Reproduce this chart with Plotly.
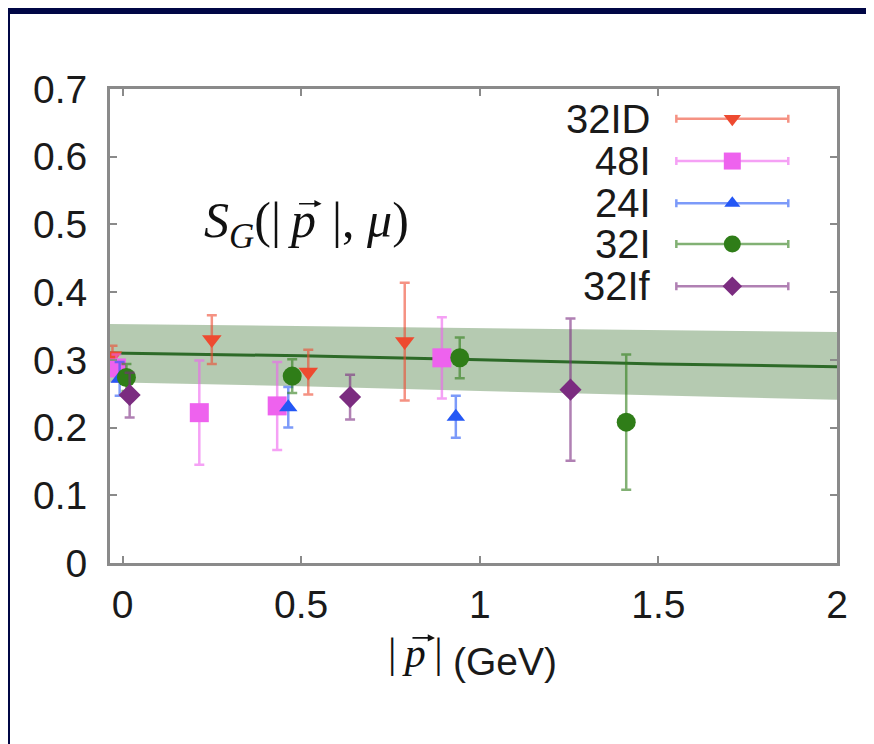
import plotly.graph_objects as go

# data
names = ["32ID", "48I", "24I", "32I", "32If"]

x_32ID = [-0.028, 0.25, 0.52, 0.79]
y_32ID = [0.306, 0.330, 0.282, 0.327]
e_32ID = [0.015, 0.036, 0.033, 0.087]

x_48I = [-0.017, 0.215, 0.433, 0.894]
y_48I = [0.288, 0.222, 0.232, 0.303]
e_48I = [0.02, 0.077, 0.065, 0.06]

x_24I = [-0.008, 0.464, 0.933]
y_24I = [0.272, 0.230, 0.216]
e_24I = [0.025, 0.03, 0.031]

x_32I = [0.011, 0.475, 0.944, 1.41]
y_32I = [0.274, 0.276, 0.303, 0.208]
e_32I = [0.02, 0.025, 0.03, 0.1]

x_32If = [0.02, 0.637, 1.254]
y_32If = [0.248, 0.245, 0.256]
e_32If = [0.033, 0.033, 0.105]

band_x = [-0.035, 0.5, 1.0, 1.5, 2.0]
band_mid = [0.310, 0.306, 0.300, 0.294, 0.290]
band_hi = [0.353, 0.350, 0.347, 0.344, 0.341]
band_lo = [0.267, 0.261, 0.254, 0.247, 0.241]

x_ticks = [0, 0.5, 1, 1.5, 2]
y_ticks = [0, 0.1, 0.2, 0.3, 0.4, 0.5, 0.6, 0.7]

colors = ["#ee4a30", "#ee62ee", "#2457f5", "#2f7d18", "#7b2c80"]
err_colors = ["rgba(238,74,48,0.6)", "rgba(238,98,238,0.6)", "rgba(36,87,245,0.6)",
              "rgba(47,125,24,0.6)", "rgba(123,44,128,0.6)"]
symbols = ["triangle-down", "square", "triangle-up", "circle", "diamond"]
sizes = [17, 19, 16, 19, 17]

series = [(x_32ID, y_32ID, e_32ID), (x_48I, y_48I, e_48I), (x_24I, y_24I, e_24I),
          (x_32I, y_32I, e_32I), (x_32If, y_32If, e_32If)]

fig = go.Figure()

# fit band
fig.add_trace(go.Scatter(x=band_x, y=band_lo, mode='lines', line=dict(width=0),
                         showlegend=False, hoverinfo='skip'))
fig.add_trace(go.Scatter(x=band_x, y=band_hi, mode='lines', line=dict(width=0),
                         fill='tonexty', fillcolor='rgba(60,115,50,0.38)',
                         showlegend=False, hoverinfo='skip'))
fig.add_trace(go.Scatter(x=band_x, y=band_mid, mode='lines',
                         line=dict(color='#2d6a28', width=3), showlegend=False))

for i, (xs, ys, es) in enumerate(series):
    fig.add_trace(go.Scatter(x=xs, y=ys, mode='markers', name=names[i],
                             marker=dict(symbol=symbols[i], size=sizes[i], color=colors[i]),
                             error_y=dict(type='data', array=es, color=err_colors[i],
                                          thickness=2.5, width=5),
                             showlegend=False))

# hand-made gnuplot style key on an overlay axis
key_y = [0.937, 0.848, 0.759, 0.673, 0.584]
for i in range(len(names)):
    fig.add_trace(go.Scatter(x=[0.856], y=[key_y[i]], mode='markers', xaxis='x2', yaxis='y2',
                             marker=dict(symbol=symbols[i], size=sizes[i] - 2, color=colors[i]),
                             error_x=dict(type='data', array=[0.077], color=err_colors[i],
                                          thickness=2.5, width=4),
                             showlegend=False))
    fig.add_annotation(x=0.747, y=key_y[i], xref='paper', yref='paper', text=names[i],
                       showarrow=False, xanchor='right', yanchor='middle',
                       font=dict(family='Liberation Sans', size=40, color='#1a1a1a'))

serif = dict(family='Liberation Serif', size=50, color='#111')

# S_G(|p|, mu) label, split at the p so the vector arrow can sit on it
fig.add_annotation(x=0.286, y=0.787, xref='paper', yref='paper',
                   text="<i>S<sub>G</sub></i>(|\u2009<i>p</i>",
                   showarrow=False, xanchor='right', yanchor='top', font=serif)
fig.add_annotation(x=0.289, y=0.787, xref='paper', yref='paper',
                   text="\u2009|, <i>μ</i>)",
                   showarrow=False, xanchor='left', yanchor='top', font=serif)
fig.add_annotation(x=0.291, y=0.758, xref='paper', yref='paper', text='',
                   showarrow=True, ax=-24, ay=0, axref='pixel', ayref='pixel',
                   arrowhead=2, arrowsize=0.9, arrowwidth=1.6, arrowcolor='#111')

# axis title |p| (GeV)
fig.add_annotation(x=0.461, y=-0.137, xref='paper', yref='paper',
                   text="|\u2009<i>p</i>\u2009|",
                   showarrow=False, xanchor='right', yanchor='top',
                   font=dict(family='Liberation Serif', size=42, color='#111'))
fig.add_annotation(x=0.469, y=-0.207, xref='paper', yref='paper', text="(GeV)",
                   showarrow=False, xanchor='left', yanchor='middle',
                   font=dict(family='Liberation Sans', size=39, color='#1a1a1a'))
fig.add_annotation(x=0.447, y=-0.158, xref='paper', yref='paper', text='',
                   showarrow=True, ax=-24, ay=0, axref='pixel', ayref='pixel',
                   arrowhead=2, arrowsize=0.9, arrowwidth=1.6, arrowcolor='#111')

axis_style = dict(showline=True, linecolor='#8a8a8a', linewidth=3, mirror='ticks',
                  ticks='inside', ticklen=7, tickcolor='#8a8a8a', tickwidth=2,
                  showgrid=False, zeroline=False,
                  tickfont=dict(family='Liberation Sans', size=39, color='#1a1a1a'))

fig.update_layout(
    width=866, height=736,
    margin=dict(l=102, r=37, t=81, b=181),
    paper_bgcolor='white', plot_bgcolor='white',
    xaxis=dict(range=[-0.035, 2], tickvals=x_ticks, ticktext=['0', '0.5', '1', '1.5', '2'],
               ticklabelstandoff=5, **axis_style),
    yaxis=dict(range=[0, 0.7], tickvals=y_ticks,
               ticktext=['0', '0.1', '0.2', '0.3', '0.4', '0.5', '0.6', '0.7'],
               ticklabelstandoff=12, **axis_style),
    xaxis2=dict(range=[0, 1], overlaying='x', visible=False),
    yaxis2=dict(range=[0, 1], overlaying='y', visible=False),
    shapes=[
        dict(type='rect', xref='paper', yref='paper', xsizemode='pixel', ysizemode='pixel',
             xanchor=0, yanchor=1, x0=-110, x1=-100, y0=-700, y1=200,
             fillcolor='#000645', line=dict(width=0), layer='above'),
        dict(type='rect', xref='paper', yref='paper', xsizemode='pixel', ysizemode='pixel',
             xanchor=0, yanchor=1, x0=-200, x1=900, y0=75, y1=90,
             fillcolor='#000645', line=dict(width=0), layer='above'),
    ],
)

fig.write_html("out.html")
